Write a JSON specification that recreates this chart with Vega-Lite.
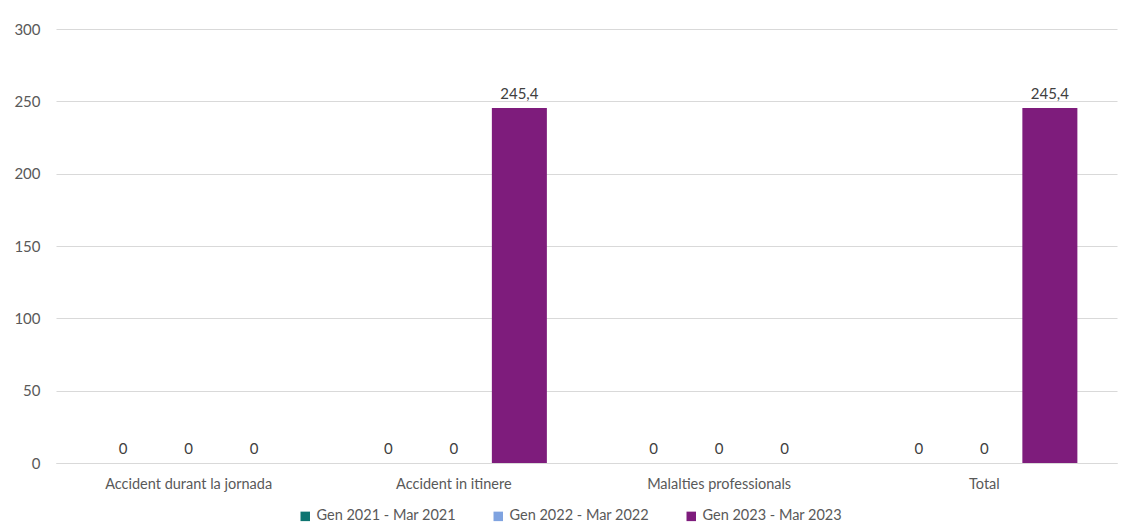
{
  "$schema": "https://vega.github.io/schema/vega-lite/v6.json",
  "width": 1061,
  "height": 434,
  "autosize": {"type": "none"},
  "padding": {"left": 56, "top": 29, "right": 9, "bottom": 68},
  "background": "white",
  "config": {
    "locale": {"number": {"decimal": ",", "thousands": ".", "grouping": [3], "currency": ["", " €"]}},
    "font": "Lato",
    "view": {"stroke": null},
    "axis": {"labelFont": "Lato", "labelFontSize": 15, "labelColor": "#595959", "domain": false, "ticks": false, "title": null}
  },
  "data": {
    "values": [
      {"categoria": "Accident durant la jornada", "periode": "Gen 2021 - Mar 2021", "valor": 0},
      {"categoria": "Accident durant la jornada", "periode": "Gen 2022 - Mar 2022", "valor": 0},
      {"categoria": "Accident durant la jornada", "periode": "Gen 2023 - Mar 2023", "valor": 0},
      {"categoria": "Accident in itinere", "periode": "Gen 2021 - Mar 2021", "valor": 0},
      {"categoria": "Accident in itinere", "periode": "Gen 2022 - Mar 2022", "valor": 0},
      {"categoria": "Accident in itinere", "periode": "Gen 2023 - Mar 2023", "valor": 245.4},
      {"categoria": "Malalties professionals", "periode": "Gen 2021 - Mar 2021", "valor": 0},
      {"categoria": "Malalties professionals", "periode": "Gen 2022 - Mar 2022", "valor": 0},
      {"categoria": "Malalties professionals", "periode": "Gen 2023 - Mar 2023", "valor": 0},
      {"categoria": "Total", "periode": "Gen 2021 - Mar 2021", "valor": 0},
      {"categoria": "Total", "periode": "Gen 2022 - Mar 2022", "valor": 0},
      {"categoria": "Total", "periode": "Gen 2023 - Mar 2023", "valor": 245.4}
    ]
  },
  "encoding": {
    "x": {
      "field": "categoria", "type": "nominal", "sort": null,
      "scale": {"paddingInner": 0, "paddingOuter": 0},
      "axis": {"labelAngle": 0, "labelPadding": 14, "labelFontSize": 14.5, "grid": false, "domain": true, "domainColor": "#d9d9d9", "domainWidth": 1}
    },
    "xOffset": {
      "field": "periode", "type": "nominal",
      "scale": {"paddingInner": 0.16, "paddingOuter": 0.605}
    },
    "y": {
      "field": "valor", "type": "quantitative",
      "scale": {"domain": [0, 300], "nice": false},
      "axis": {"values": [0, 50, 100, 150, 200, 250, 300], "labelPadding": 16, "labelFontSize": 15, "gridColor": "#d9d9d9", "gridWidth": 1}
    }
  },
  "layer": [
    {
      "mark": {"type": "bar"},
      "encoding": {
        "color": {
          "field": "periode", "type": "nominal",
          "scale": {"domain": ["Gen 2021 - Mar 2021", "Gen 2022 - Mar 2022", "Gen 2023 - Mar 2023"], "range": ["#0E7571", "#7FA3E0", "#7E1C7C"]},
          "legend": {
            "title": null, "orient": "none", "direction": "horizontal",
            "legendX": 242, "legendY": 480,
            "symbolType": "square", "symbolSize": 90, "symbolStrokeWidth": 0,
            "labelFont": "Lato", "labelFontSize": 14.5, "labelColor": "#595959",
            "columnPadding": 35, "symbolOffset": 0, "labelOffset": 4
          }
        }
      }
    },
    {
      "mark": {"type": "text", "baseline": "bottom", "dy": -6, "font": "Lato", "fontSize": 15, "color": "#404040"},
      "encoding": {
        "text": {"field": "valor", "type": "quantitative", "format": ".1~f"}
      }
    }
  ]
}
